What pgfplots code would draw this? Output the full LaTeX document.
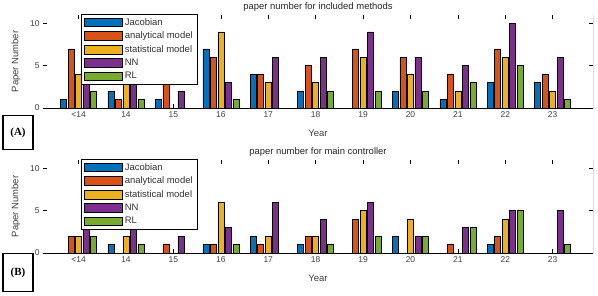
\documentclass[border=0pt]{standalone}
\usepackage{fontspec}
\setmainfont{Liberation Sans}
\newfontfamily\serifb{Liberation Serif}
\usepackage{pgfplots}
\usepackage{pgfplotstable}
\pgfplotsset{compat=1.18}
\definecolor{cJ}{HTML}{0072BD}
\definecolor{cA}{HTML}{D95319}
\definecolor{cS}{HTML}{EDB120}
\definecolor{cN}{HTML}{7E2F8E}
\definecolor{cR}{HTML}{77AC30}

\pgfplotstableread{
x J A S N R
0 1 7 4 6 2
1 2 1 4 5 1
2 1 4 0 2 0
3 7 6 9 3 1
4 4 4 3 6 0
5 2 5 3 6 2
6 0 7 6 9 2
7 2 6 4 6 2
8 1 4 2 5 3
9 3 7 6 10 5
10 3 4 2 6 1
}\tableA
\pgfplotstableread{
x J A S N R
0 0 2 2 4 2
1 1 0 2 4 1
2 0 1 0 2 0
3 1 1 6 3 1
4 2 1 2 6 0
5 1 2 2 4 1
6 0 4 5 6 2
7 2 0 4 2 2
8 0 1 0 3 3
9 1 2 4 5 5
10 0 0 0 5 1
}\tableB

\pgfplotsset{mybars/.style={
  scale only axis, width=550bp, height=93bp,
  ybar=1.5bp, bar width=6bp,
  xmin=-0.75, xmax=10.85, ymin=0, ymax=11,
  xtick={0,...,10},
  xticklabels={{<14},14,15,16,17,18,19,20,21,22,23},
  ytick={0,5,10},
  /pgf/number format/assume math mode=true,
  tick align=inside, major tick length=4bp,
  tick style={black, line width=0.5pt},
  axis line style={draw=none},
  ticklabel style={font=\fontsize{8.5}{9}\selectfont, text=black!75},
  label style={font=\fontsize{9.5}{10}\selectfont, text=black!75},
  title style={font=\fontsize{9.5}{10}\selectfont, text=black!85, inner sep=1bp, yshift=-3.5bp},
  xlabel={Year}, ylabel={Paper Number},
  xlabel style={yshift=-6bp},
  ylabel style={yshift=3bp},
  every axis plot/.append style={draw=black, line width=0.6pt},
  legend image code/.code={\draw[#1] (0bp,-4.3bp) rectangle (38bp,4.3bp);},
  legend style={at={(rel axis cs:0.069,1.01)}, anchor=north west,
    draw=black, line width=0.5pt, fill=white,
    font=\fontsize{9.5}{10}\selectfont, text=black!80,
    inner xsep=3bp, inner ysep=2bp, row sep=1.2bp,
    cells={anchor=west}},
}}

\begin{document}
\begin{tikzpicture}
\useasboundingbox (0,0) rectangle (598bp,-296bp);
\begin{axis}[mybars, at={(43bp,-108bp)}, anchor=south west,
  title={paper number for included methods}]
\addplot[fill=cJ] table[x=x,y=J]{\tableA};
\addplot[fill=cA] table[x=x,y=A]{\tableA};
\addplot[fill=cS] table[x=x,y=S]{\tableA};
\addplot[fill=cN] table[x=x,y=N]{\tableA};
\addplot[fill=cR] table[x=x,y=R]{\tableA};
\draw[black, line width=0.6pt] (rel axis cs:0,0) -- (rel axis cs:1,0) -- (rel axis cs:1,1);
\legend{Jacobian, analytical model, statistical model, NN, RL}
\end{axis}
\begin{axis}[mybars, at={(43bp,-253bp)}, anchor=south west,
  title={paper number for main controller}]
\addplot[fill=cJ] table[x=x,y=J]{\tableB};
\addplot[fill=cA] table[x=x,y=A]{\tableB};
\addplot[fill=cS] table[x=x,y=S]{\tableB};
\addplot[fill=cN] table[x=x,y=N]{\tableB};
\addplot[fill=cR] table[x=x,y=R]{\tableB};
\draw[black, line width=0.6pt] (rel axis cs:0,0) -- (rel axis cs:1,0) -- (rel axis cs:1,1);
\legend{Jacobian, analytical model, statistical model, NN, RL}
\end{axis}
\node[draw, line width=1.2pt, minimum width=30bp, minimum height=34bp, inner sep=0pt,
  font=\serifb\bfseries\fontsize{11}{12}\selectfont] at (18bp,-132.5bp) {(A)};
\node[draw, line width=1.2pt, minimum width=30bp, minimum height=38bp, inner sep=0pt,
  font=\serifb\bfseries\fontsize{11}{12}\selectfont] at (18bp,-272.5bp) {(B)};
\end{tikzpicture}
\end{document}
